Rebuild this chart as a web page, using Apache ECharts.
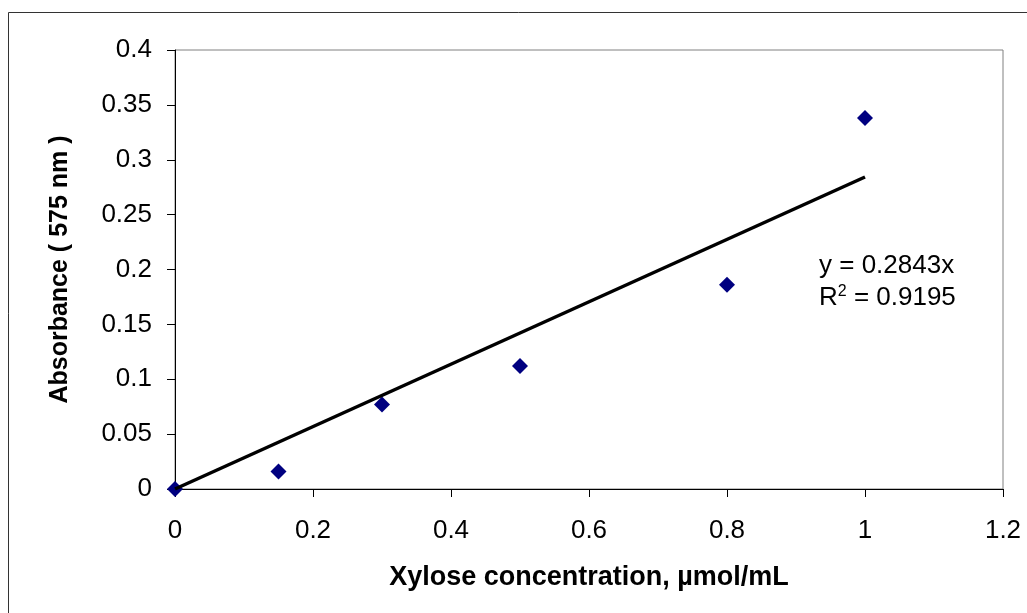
<!DOCTYPE html>
<html>
<head>
<meta charset="utf-8">
<script src="https://cdn.jsdelivr.net/npm/echarts@6/dist/echarts.min.js"></script>
<style>
  html, body { margin: 0; padding: 0; background: #fff; }
  #chart { width: 1027px; height: 613px; }
</style>
</head>
<body>
<div id="chart"></div>
<script>
// measured points
const concentration = [0, 0.15, 0.3, 0.5, 0.8, 1.0];
const absorbance = [0, 0.016, 0.077, 0.112, 0.186, 0.338];
// linear trendline through origin
const trendX = [0, 1];
const trendY = [0, 0.2843];
const equationText = "y = 0.2843x";
const r2Text = "0.9195";

var myChart = echarts.init(document.getElementById("chart"));
var font = "'Liberation Sans', Arial, sans-serif";

var option = {
  animation: false,
  backgroundColor: "#fff",
  grid: {
    left: 175,
    right: 24,
    top: 50,
    bottom: 124,
    show: true,
    borderColor: "#808080",
    borderWidth: 1,
  },
  xAxis: {
    type: "value",
    min: 0,
    max: 1.2,
    interval: 0.2,
    name: "Xylose concentration, µmol/mL",
    nameLocation: "middle",
    nameGap: 89,
    nameTextStyle: {
      fontFamily: font,
      fontWeight: "bold",
      fontSize: 27,
      color: "#000",
      verticalAlign: "middle",
    },
    axisLine: { onZero: false, lineStyle: { color: "#000", width: 1 } },
    axisTick: { show: true, length: 8, inside: false, lineStyle: { color: "#000" } },
    axisLabel: {
      margin: 29,
      fontFamily: font,
      fontSize: 26,
      color: "#000",
      formatter: (v) => String(Math.round(v * 10) / 10),
    },
    splitLine: { show: false },
  },
  yAxis: {
    type: "value",
    min: 0,
    max: 0.4,
    interval: 0.05,
    name: "Absorbance ( 575 nm )",
    nameLocation: "middle",
    nameGap: 115,
    nameTextStyle: {
      fontFamily: font,
      fontWeight: "bold",
      fontSize: 25,
      color: "#000",
      verticalAlign: "middle",
    },
    axisLine: { show: true, onZero: false, lineStyle: { color: "#000", width: 1 } },
    axisTick: { show: true, length: 8, lineStyle: { color: "#000" } },
    axisLabel: {
      margin: 23,
      fontFamily: font,
      fontSize: 26,
      color: "#000",
      formatter: (v) => String(Math.round(v * 100) / 100),
    },
    splitLine: { show: false },
  },
  series: [
    {
      type: "line",
      data: trendX.map((x, i) => [x, trendY[i]]),
      showSymbol: false,
      symbol: "none",
      lineStyle: { color: "#000", width: 3.5 },
      z: 3,
    },
    {
      type: "scatter",
      data: concentration.map((x, i) => [x, absorbance[i]]),
      symbol: "diamond",
      symbolSize: [16, 16],
      itemStyle: { color: "#000080", opacity: 1 },
      z: 2,
    },
  ],
  graphic: [
    {
      type: "rect",
      shape: { x: 8.5, y: 12.5, width: 1100, height: 700 },
      style: { fill: null, stroke: "#333", lineWidth: 1 },
      silent: true,
    },
    {
      type: "text",
      left: 819,
      top: 253,
      style: {
        text: equationText,
        fontFamily: font,
        fontSize: 26,
        fill: "#000",
      },
    },
    {
      type: "text",
      left: 819,
      top: 284,
      style: {
        text: "R{sup|2} = " + r2Text,
        fontFamily: font,
        fontSize: 26,
        fill: "#000",
        rich: {
          sup: { fontFamily: font, fontSize: 16, verticalAlign: "top", padding: [0, 0, 12, 0] },
        },
      },
    },
  ],
};

myChart.setOption(option);
window.addEventListener("resize", function () {
  myChart.resize();
});
</script>
</body>
</html>
